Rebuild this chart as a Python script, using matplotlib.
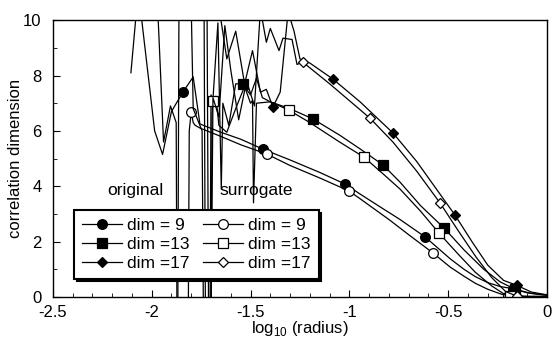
import numpy as np
import matplotlib
matplotlib.use("Agg")
import matplotlib.pyplot as plt
from matplotlib.ticker import MultipleLocator, FormatStrFormatter

plt.rcParams['font.family'] = ['Liberation Sans', 'DejaVu Sans']
plt.rcParams['axes.unicode_minus'] = False

# original data, dim = 9 / 13 / 17  (x = log10 radius, y = correlation dimension)
orig9_x = [-2.06, -1.985, -1.945, -1.90, -1.842, -1.79, -1.775, -1.756, -1.65, -1.55, -1.437,
           -1.3, -1.15, -1.022, -0.946, -0.85, -0.744, -0.617, -0.49, -0.42, -0.364, -0.3,
           -0.238, -0.172, -0.1, 0.0]
orig9_y = [10.6, 6.0, 5.15, 6.7, 7.40, 7.95, 7.2, 6.25, 5.95, 5.7, 5.34,
           4.95, 4.5, 4.08, 3.72, 3.28, 2.8, 2.17, 1.38, 1.0, 0.74, 0.52,
           0.38, 0.3, 0.15, 0.07]
orig9_mk = [4, 10, 13, 17, 23]

orig13_x = [-1.868, -1.862, -1.735, -1.728, -1.70, -1.695, -1.665, -1.648, -1.64, -1.61, -1.575,
            -1.54, -1.50, -1.47, -1.44, -1.40, -1.30, -1.184, -1.05, -0.946, -0.83, -0.744,
            -0.64, -0.521, -0.42, -0.32, -0.238, -0.162, -0.08, 0.0]
orig13_y = [-1, 10.5, 10.5, -1, -1, 6.6, 9.9, 3.9, 7.0, 6.2, 7.7,
            7.69, 7.3, 7.9, 7.2, 7.05, 6.8, 6.43, 5.85, 5.35, 4.77, 4.15,
            3.3, 2.49, 1.7, 1.0, 0.55, 0.28, 0.13, 0.06]
orig13_mk = [11, 17, 20, 23, 27]

orig17_x = [-1.66, -1.62, -1.575, -1.53, -1.49, -1.45, -1.42, -1.387, -1.35, -1.31, -1.28,
            -1.25, -1.20, -1.083, -0.946, -0.779, -0.66, -0.56, -0.466, -0.38, -0.30, -0.22,
            -0.152, -0.08, 0.0]
orig17_y = [10.5, 8.6, 9.6, 7.7, 8.9, 7.4, 7.5, 6.86, 7.4, 10.3, 9.6,
            8.6, 8.45, 7.87, 7.05, 5.92, 4.9, 3.9, 2.96, 2.0, 1.15, 0.6,
            0.42, 0.18, 0.08]
orig17_mk = [7, 13, 15, 18, 22]

# surrogate data
surr9_x = [-1.97, -1.94, -1.905, -1.876, -1.872, -1.815, -1.81, -1.80, -1.79, -1.78, -1.755,
           -1.65, -1.55, -1.417, -1.3, -1.15, -1.002, -0.946, -0.8, -0.7, -0.577, -0.49,
           -0.42, -0.364, -0.3, -0.238, -0.20, -0.1, 0.0]
surr9_y = [10.5, 5.6, 6.9, 6.3, -1, -1, 6.0, 6.68, 6.3, 6.2, 6.1,
           5.8, 5.5, 5.16, 4.75, 4.3, 3.83, 3.55, 2.8, 2.25, 1.59, 1.08,
           0.75, 0.5, 0.28, 0.12, 0.03, 0.02, 0.02]
surr9_mk = [7, 13, 16, 20, 26]

surr13_x = [-1.80, -1.79, -1.745, -1.738, -1.705, -1.70, -1.69, -1.675, -1.66, -1.62, -1.57,
            -1.53, -1.50, -1.49, -1.485, -1.47, -1.40, -1.306, -1.2, -1.05, -0.926, -0.83,
            -0.744, -0.64, -0.547, -0.45, -0.364, -0.28, -0.22, -0.187, -0.1, 0.0]
surr13_y = [10.5, 6.8, 6.0, -1, -1, 7.3, 7.08, 7.25, 6.2, 5.95, 6.9,
            7.6, 7.0, 7.1, 3.4, 7.0, 7.05, 6.75, 6.3, 5.6, 5.05, 4.45,
            3.9, 3.1, 2.31, 1.55, 0.9, 0.4, 0.12, 0.03, 0.02, 0.02]
surr13_mk = [6, 17, 20, 24, 29]

surr17_x = [-2.105, -2.075, -1.72, -1.712, -1.70, -1.69, -1.66, -1.63, -1.60, -1.56, -1.52,
            -1.48, -1.45, -1.42, -1.40, -1.356, -1.336, -1.29, -1.265, -1.235, -1.1, -0.896,
            -0.78, -0.66, -0.541, -0.45, -0.36, -0.28, -0.21, -0.152, -0.08, 0.0]
surr17_y = [8.1, 10.5, 10.5, -1, -1, 7.2, 6.5, 9.8, 8.2, 6.4, 7.8,
            6.9, 10.4, 9.2, 9.7, 8.9, 9.35, 9.3, 8.4, 8.48, 7.7, 6.46,
            5.6, 4.55, 3.39, 2.4, 1.45, 0.7, 0.2, 0.03, 0.02, 0.02]
surr17_mk = [19, 21, 24, 29]

labels = ["dim = 9", "dim =13", "dim =17"]

fig = plt.figure(figsize=(5.56, 3.47), dpi=100)
ax = fig.add_axes([0.095, 0.144, 0.889, 0.798])

series = [
    (orig9_x, orig9_y, orig9_mk, 'o', 'k', 7),
    (orig13_x, orig13_y, orig13_mk, 's', 'k', 7.5),
    (orig17_x, orig17_y, orig17_mk, 'D', 'k', 5.5),
    (surr9_x, surr9_y, surr9_mk, 'o', 'w', 7),
    (surr13_x, surr13_y, surr13_mk, 's', 'w', 7.5),
    (surr17_x, surr17_y, surr17_mk, 'D', 'w', 5.5),
]

handles = []
for xs, ys, mk, m, fc, ms in series:
    ax.plot(xs, ys, color='k', lw=0.9, marker=m, markevery=mk, ms=ms,
            mfc=fc, mec='k', mew=0.9, clip_on=True)
    h, = ax.plot([], [], color='k', lw=0.9, marker=m, ms=ms, mfc=fc, mec='k', mew=0.9)
    handles.append(h)

leg = ax.legend(handles, labels + labels, ncol=2, loc='lower left',
                bbox_to_anchor=(0.025, 0.035), fontsize=12.5, frameon=True,
                fancybox=False, shadow={'color': 'k', 'alpha': 1},
                handlelength=2.3, handletextpad=0.3, labelspacing=0.22,
                columnspacing=0.8, borderpad=0.45, numpoints=1)
leg.get_frame().set_edgecolor('k')
leg.get_frame().set_linewidth(1.5)

ax.text(-2.08, 3.85, "original", ha='center', va='center', fontsize=12.5)
ax.text(-1.473, 3.85, "surrogate", ha='center', va='center', fontsize=12.5)

ax.set_xlim(-2.5, 0)
ax.set_ylim(0, 10)
ax.xaxis.set_major_locator(MultipleLocator(0.5))
ax.xaxis.set_minor_locator(MultipleLocator(0.1))
ax.yaxis.set_major_locator(MultipleLocator(2))
ax.yaxis.set_minor_locator(MultipleLocator(1))
ax.xaxis.set_major_formatter(FormatStrFormatter('%g'))
ax.tick_params(which='both', direction='in', top=False, right=False, labelsize=12)
ax.tick_params(which='major', length=5)
ax.tick_params(which='minor', length=3)
ax.tick_params(axis='x', pad=6)
ax.tick_params(axis='y', pad=8)
for s in ax.spines.values():
    s.set_linewidth(1.0)

ax.set_xlabel(r"log$_{\mathregular{10}}$ (radius)", fontsize=12, labelpad=-1)
ax.set_ylabel("correlation dimension", fontsize=12, labelpad=0)

fig.savefig("out.png", dpi=100)
